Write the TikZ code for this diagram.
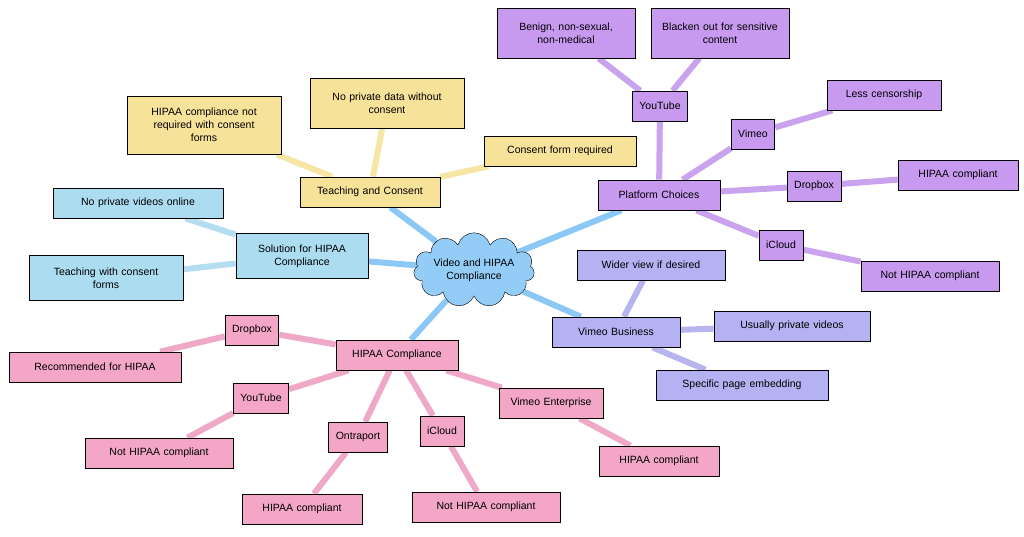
\documentclass[tikz,border=0pt]{standalone}
\usepackage{fontspec}
\setmainfont{Liberation Sans}
\usetikzlibrary{shapes.symbols,backgrounds}
\definecolor{yel}{HTML}{F7E29A}\definecolor{yell}{HTML}{F5E6A6}
\definecolor{blu}{HTML}{ABDCF0}\definecolor{blul}{HTML}{B5DDF0}
\definecolor{pnk}{HTML}{F3A6C6}\definecolor{pnkl}{HTML}{F0A8C8}
\definecolor{pur}{HTML}{C79AF0}\definecolor{purl}{HTML}{C9A3EE}
\definecolor{lav}{HTML}{B4B2F2}\definecolor{lavl}{HTML}{B8B4EE}
\definecolor{cen}{HTML}{93CDF7}\definecolor{cenl}{HTML}{8CC8F5}
\begin{document}
\begin{tikzpicture}[x=1pt,y=-1pt,
 b/.style={draw=black,line width=0.7pt,minimum height=30pt,inner xsep=7pt,inner ysep=3pt,align=center,font=\fontsize{10.5}{13}\selectfont},
 Y/.style={b,fill=yel},B/.style={b,fill=blu},P/.style={b,fill=pnk},U/.style={b,fill=pur},L/.style={b,fill=lav},
 e/.style={line width=6pt}]
\useasboundingbox (0,0) rectangle (1024,536);
\node[cloud,draw,fill=cen,cloud puffs=11,aspect=2.2,inner sep=0pt,align=center,font=\fontsize{10.5}{13}\selectfont] (c) at (474,270) {Video and HIPAA\\Compliance};
\node[Y,text width=126pt] (tc) at (370,192) {Teaching and Consent};
\node[Y,text width=140pt,minimum height=50pt] (y1) at (387,103) {No private data without\\consent};
\node[Y,text width=140pt,minimum height=58pt] (y2) at (204,125) {HIPAA compliance not\\required with consent\\forms};
\node[Y,text width=138pt] (y3) at (560,151) {Consent form required};
\node[B,text width=118pt,minimum height=45pt] (s) at (302,256) {Solution for HIPAA\\Compliance};
\node[B,text width=156pt] (b1) at (138,203) {No private videos online};
\node[B,text width=140pt,minimum height=45pt] (b2) at (106,278) {Teaching with consent\\forms};
\node[P,text width=108pt] (h) at (397,355) {HIPAA Compliance};
\node[P] (p1) at (252,330) {Dropbox};
\node[P,text width=158pt] (p2) at (95,367) {Recommended for HIPAA};
\node[P] (p3) at (261,398) {YouTube};
\node[P,text width=134pt] (p4) at (159,453) {Not HIPAA compliant};
\node[P] (p5) at (358,437) {Ontraport};
\node[P,text width=106pt] (p6) at (302,509) {HIPAA compliant};
\node[P] (p7) at (442,431) {iCloud};
\node[P,text width=134pt] (p8) at (486,507) {Not HIPAA compliant};
\node[P,text width=90pt] (p9) at (551,403) {Vimeo Enterprise};
\node[P,text width=106pt] (p10) at (659,461) {HIPAA compliant};
\node[U,text width=108pt] (pc) at (659,195) {Platform Choices};
\node[U] (u1) at (660,106) {YouTube};
\node[U,text width=124pt,minimum height=50pt] (u2) at (566,33) {Benign, non-sexual,\\non-medical};
\node[U,text width=124pt,minimum height=50pt] (u3) at (720,33) {Blacken out for sensitive\\content};
\node[U] (u4) at (753,134) {Vimeo};
\node[U,text width=100pt] (u5) at (884,95) {Less censorship};
\node[U] (u6) at (814,186) {Dropbox};
\node[U,text width=106pt] (u7) at (958,175) {HIPAA compliant};
\node[U] (u8) at (781,245) {iCloud};
\node[U,text width=124pt] (u9) at (930,276) {Not HIPAA compliant};
\node[L,text width=114pt] (v) at (616,332) {Vimeo Business};
\node[L,text width=134pt] (l1) at (651,265) {Wider view if desired};
\node[L,text width=142pt] (l2) at (792,326) {Usually private videos};
\node[L,text width=158pt] (l3) at (742,385) {Specific page embedding};
\begin{scope}[on background layer]
\fill[white] (0,0) rectangle (1024,536);
\begin{scope}[e]
\draw[cenl] (c)--(tc) (c)--(s) (c)--(h) (c)--(pc) (c)--(v);
\draw[yell] (tc)--(y1) (tc)--(y2) (tc)--(y3);
\draw[blul] (s)--(b1) (s)--(b2);
\draw[pnkl] (h)--(p1) (p1)--(p2) (h)--(p3) (p3)--(p4) (h)--(p5) (p5)--(p6) (h)--(p7) (p7)--(p8) (h)--(p9) (p9)--(p10);
\draw[purl] (pc)--(u1) (u1)--(u2) (u1)--(u3) (pc)--(u4) (u4)--(u5) (pc)--(u6) (u6)--(u7) (pc)--(u8) (u8)--(u9);
\draw[lavl] (v)--(l1) (v)--(l2) (v)--(l3);
\end{scope}
\end{scope}
\end{tikzpicture}
\end{document}
